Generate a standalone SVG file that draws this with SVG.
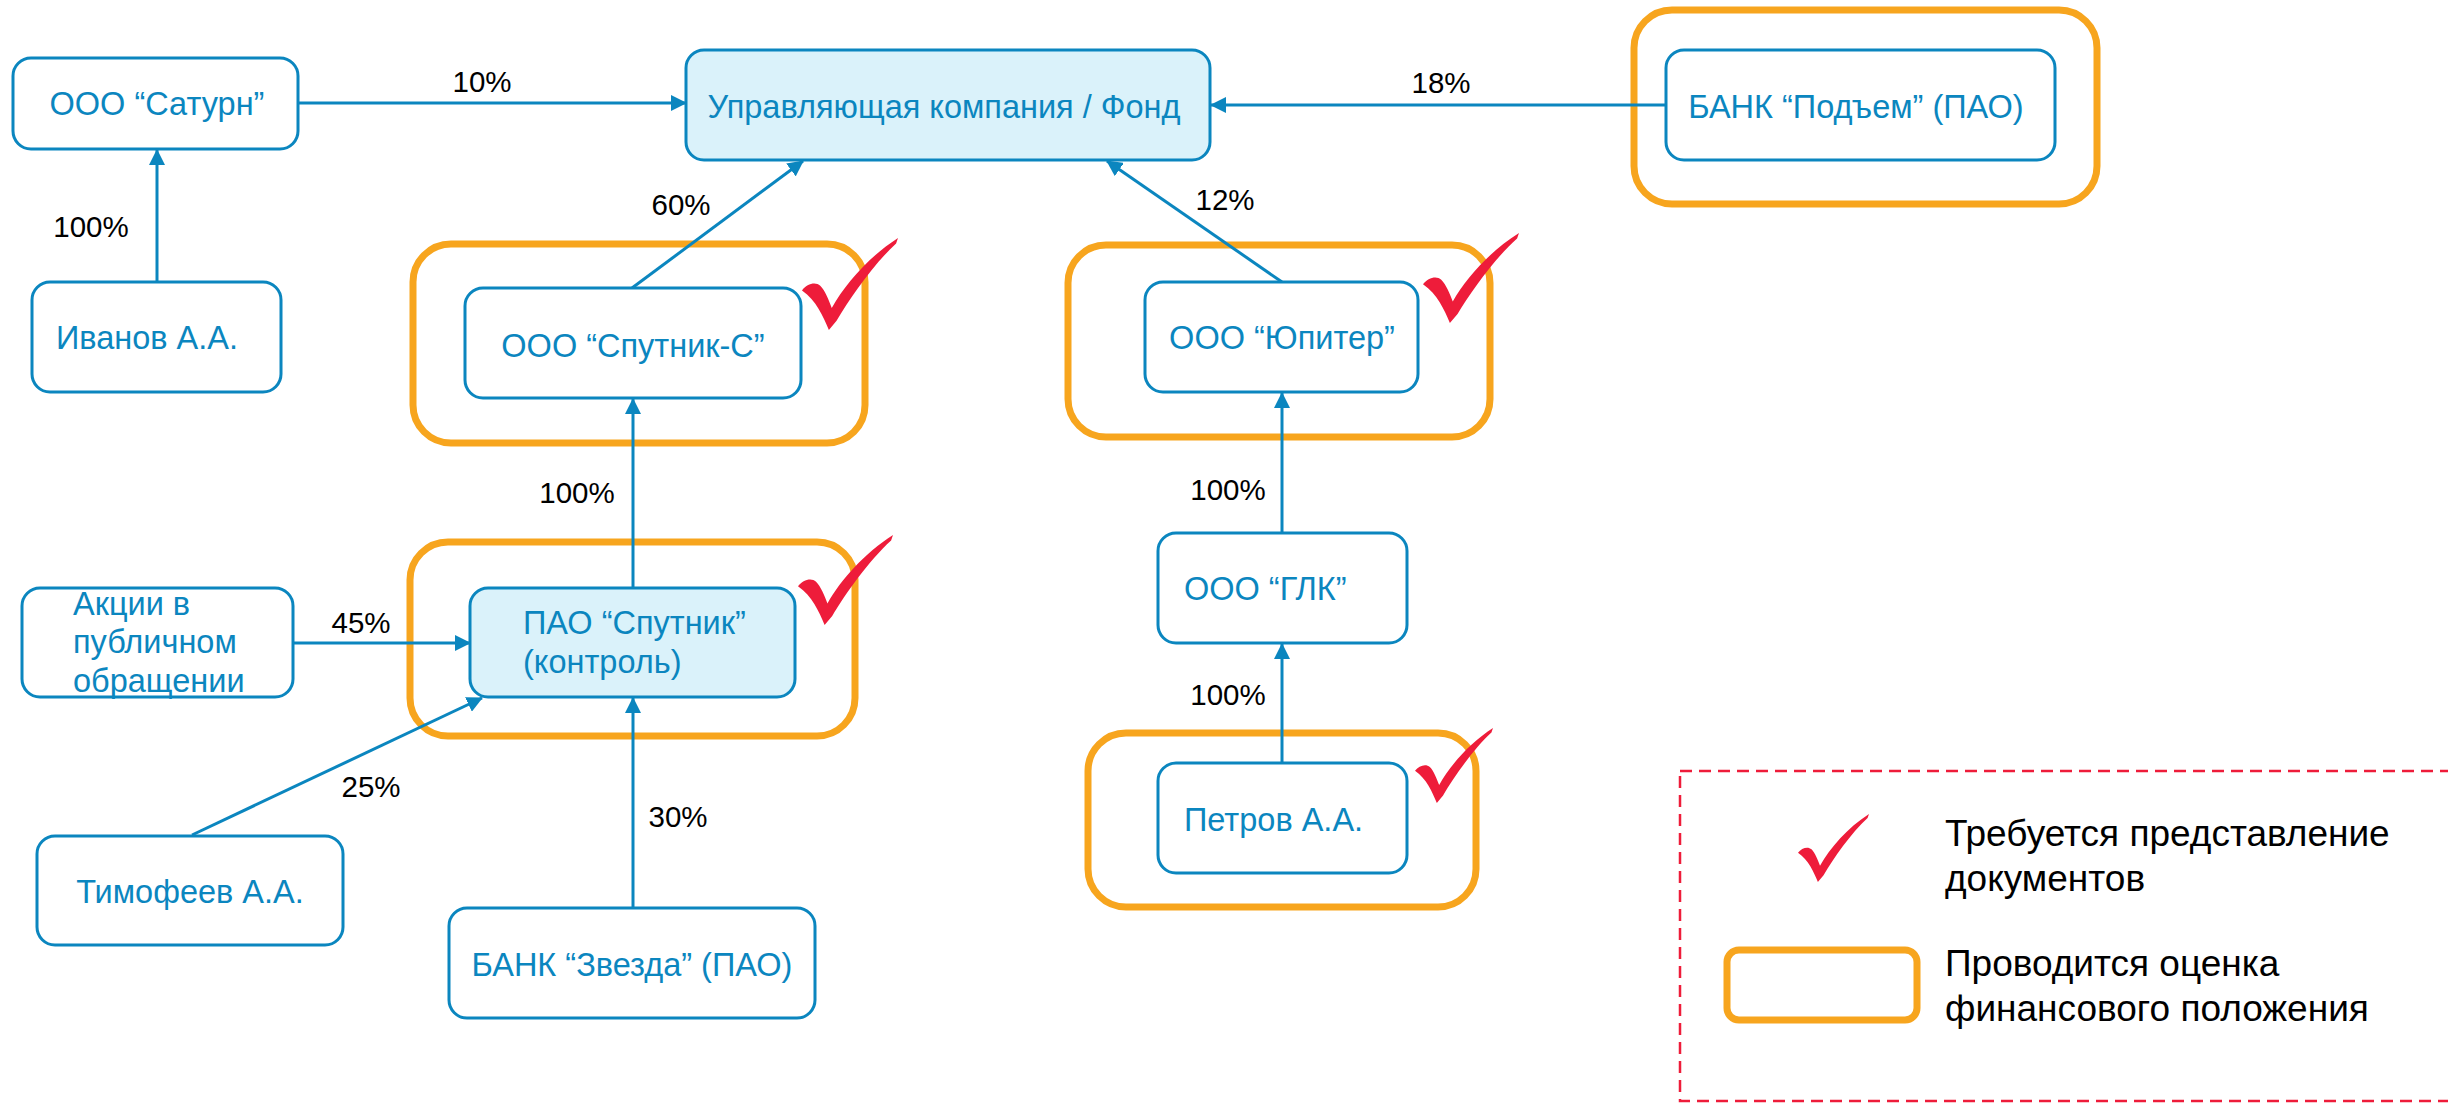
<svg xmlns="http://www.w3.org/2000/svg" width="2448" height="1103" viewBox="0 0 2448 1103">
<style>
.node{fill:#ffffff;stroke:#0B86BF;stroke-width:3}
.fill{fill:#DAF2FA}
.eval{fill:none;stroke:#F7A51E;stroke-width:7}
.t{font-family:"Liberation Sans",Arial,sans-serif;font-size:32.5px;fill:#0B86BF}
.p{font-family:"Liberation Sans",Arial,sans-serif;font-size:29.5px;fill:#000}
.lg{font-family:"Liberation Sans",Arial,sans-serif;font-size:37px;fill:#000}
.c{stroke:#0B86BF;stroke-width:3;fill:none;marker-end:url(#ah)}
.chk{fill:#EE1C3A}
</style>
<defs>
<marker id="ah" markerUnits="userSpaceOnUse" markerWidth="16" markerHeight="16" refX="15" refY="8" orient="auto">
<path d="M0,0 L16,8 L0,16 Z" fill="#0B86BF"/>
</marker>
<path id="check" d="M0,57 C5,50 14,47 19,52 C24,57 28,68 31,76 C45,50 70,20 100,0 L98,6 C75,28 50,65 36,90 L28,100 C22,85 15,68 0,57 Z"/>
</defs>
<rect width="2448" height="1103" fill="#ffffff"/>

<g id="evaluation-frames">
<rect class="eval" x="413" y="244" width="452" height="199" rx="38"/>
<rect class="eval" x="1068" y="245" width="422" height="192" rx="38"/>
<rect class="eval" x="410" y="542" width="445" height="194" rx="38"/>
<rect class="eval" x="1088" y="733" width="388" height="174" rx="38"/>
<rect class="eval" x="1634" y="10" width="463" height="194" rx="38"/>
</g>

<g id="connectors">
<line class="c" x1="298" y1="103" x2="686" y2="103"/>
<line class="c" x1="157" y1="282" x2="157" y2="150"/>
<line class="c" x1="632" y1="288" x2="803" y2="161"/>
<line class="c" x1="1282" y1="282" x2="1107" y2="161"/>
<line class="c" x1="1666" y1="105" x2="1211" y2="105"/>
<line class="c" x1="633" y1="588" x2="633" y2="399"/>
<line class="c" x1="293" y1="643" x2="470" y2="643"/>
<line class="c" x1="192" y1="835" x2="482" y2="698"/>
<line class="c" x1="633" y1="908" x2="633" y2="698"/>
<line class="c" x1="1282" y1="533" x2="1282" y2="393"/>
<line class="c" x1="1282" y1="763" x2="1282" y2="644"/>
<text class="p" x="482" y="92" text-anchor="middle">10%</text>
<text class="p" x="91" y="237" text-anchor="middle">100%</text>
<text class="p" x="681" y="215" text-anchor="middle">60%</text>
<text class="p" x="1225" y="210" text-anchor="middle">12%</text>
<text class="p" x="1441" y="93" text-anchor="middle">18%</text>
<text class="p" x="577" y="503" text-anchor="middle">100%</text>
<text class="p" x="1228" y="500" text-anchor="middle">100%</text>
<text class="p" x="361" y="633" text-anchor="middle">45%</text>
<text class="p" x="371" y="797" text-anchor="middle">25%</text>
<text class="p" x="678" y="827" text-anchor="middle">30%</text>
<text class="p" x="1228" y="705" text-anchor="middle">100%</text>
</g>

<g id="node-saturn">
<rect class="node" x="13" y="58" width="285" height="91" rx="18"/>
<text class="t" x="157" y="115" text-anchor="middle">ООО “Сатурн”</text>
</g>
<g id="node-uk">
<rect class="node fill" x="686" y="50" width="524" height="110" rx="18"/>
<text class="t" x="944" y="118" text-anchor="middle">Управляющая компания / Фонд</text>
</g>
<g id="node-podem">
<rect class="node" x="1666" y="50" width="389" height="110" rx="18"/>
<text class="t" x="1856" y="118" text-anchor="middle">БАНК “Подъем” (ПАО)</text>
</g>
<g id="node-ivanov">
<rect class="node" x="32" y="282" width="249" height="110" rx="18"/>
<text class="t" x="147" y="349" text-anchor="middle">Иванов А.А.</text>
</g>
<g id="node-sputnik-s">
<rect class="node" x="465" y="288" width="336" height="110" rx="18"/>
<text class="t" x="633" y="357" text-anchor="middle">ООО “Спутник-С”</text>
</g>
<g id="node-jupiter">
<rect class="node" x="1145" y="282" width="273" height="110" rx="18"/>
<text class="t" x="1282" y="349" text-anchor="middle">ООО “Юпитер”</text>
</g>
<g id="node-akcii">
<rect class="node" x="22" y="588" width="271" height="109" rx="18"/>
<text class="t" x="73" y="615">Акции в</text>
<text class="t" x="73" y="653">публичном</text>
<text class="t" x="73" y="692">обращении</text>
</g>
<g id="node-pao-sputnik">
<rect class="node fill" x="470" y="588" width="325" height="109" rx="18"/>
<text class="t" x="523" y="634">ПАО “Спутник”</text>
<text class="t" x="523" y="673">(контроль)</text>
</g>
<g id="node-timofeev">
<rect class="node" x="37" y="836" width="306" height="109" rx="18"/>
<text class="t" x="190" y="903" text-anchor="middle">Тимофеев А.А.</text>
</g>
<g id="node-zvezda">
<rect class="node" x="449" y="908" width="366" height="110" rx="18"/>
<text class="t" x="632" y="976" text-anchor="middle">БАНК “Звезда” (ПАО)</text>
</g>
<g id="node-glk">
<rect class="node" x="1158" y="533" width="249" height="110" rx="18"/>
<text class="t" x="1184" y="600">ООО “ГЛК”</text>
</g>
<g id="node-petrov">
<rect class="node" x="1158" y="763" width="249" height="110" rx="18"/>
<text class="t" x="1184" y="831">Петров А.А.</text>
</g>

<g id="checkmarks">
<use href="#check" class="chk" transform="translate(802,238) scale(0.96,0.92)"/>
<use href="#check" class="chk" transform="translate(1423,233) scale(0.96,0.9)"/>
<use href="#check" class="chk" transform="translate(798,535) scale(0.95,0.9)"/>
<use href="#check" class="chk" transform="translate(1415,728) scale(0.78,0.75)"/>
</g>

<g id="legend">
<rect x="1680" y="771" width="790" height="330" fill="none" stroke="#EE1C3A" stroke-width="2.5" stroke-dasharray="12 7"/>
<use href="#check" class="chk" transform="translate(1798,814) scale(0.71,0.68)"/>
<text class="lg" x="1945" y="846">Требуется представление</text>
<text class="lg" x="1945" y="891">документов</text>
<rect x="1727" y="950" width="190" height="70" rx="12" fill="none" stroke="#F7A51E" stroke-width="7"/>
<text class="lg" x="1945" y="976">Проводится оценка</text>
<text class="lg" x="1945" y="1021">финансового положения</text>
</g>
</svg>
